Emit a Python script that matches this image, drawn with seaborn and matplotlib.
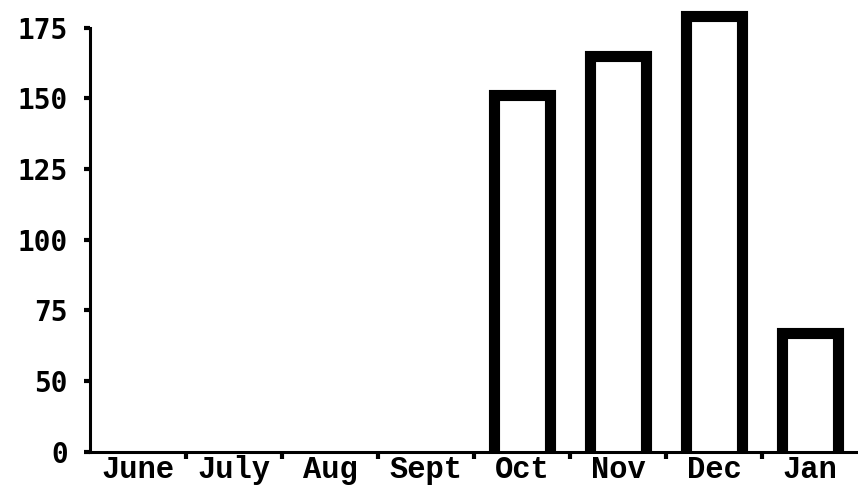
import matplotlib
matplotlib.use("Agg")
import numpy as np
import pandas as pd
import seaborn as sns
import matplotlib.pyplot as plt
from matplotlib.ticker import FixedLocator

# monthly values (axis starts at 25, labelled "0")
months = ['June', 'July', 'Aug', 'Sept', 'Oct', 'Nov', 'Dec', 'Jan']
values = [0, 0, 0, 0, 151, 165, 179, 67]
ytick_values = [25, 50, 75, 100, 125, 150, 175]
ytick_labels = ['0', '50', '75', '100', '125', '150', '175']

df = pd.DataFrame({'month': months, 'count': values})

sns.set_style("ticks")
plt.rcParams['text.color'] = 'black'
plt.rcParams['xtick.color'] = 'black'
plt.rcParams['ytick.color'] = 'black'

fig = plt.figure(figsize=(8.58, 4.88), dpi=100)
ax = fig.add_axes([0.105, 0.074, 0.895, 0.91])

sns.barplot(data=df, x='month', y='count', order=months, ax=ax,
            color='white', edgecolor='black', linewidth=8, width=0.59,
            saturation=1)

ax.set_xlim(-0.5, len(months) - 0.5)
ax.set_ylim(ytick_values[0], 182)
ax.set_xlabel('')
ax.set_ylabel('')

# y axis: small dot-like ticks on the left
ax.set_yticks(ytick_values)
ax.set_yticklabels(ytick_labels, fontfamily='DejaVu Sans Mono',
                   fontweight='bold', fontsize=20, color='black')
ax.tick_params(axis='y', length=4, width=3, pad=12, color='black')

# x axis: labels in the slots, tick marks at the slot boundaries
ax.set_xticks(range(len(months)))
ax.set_xticklabels(months, fontfamily='Liberation Mono',
                   fontweight='bold', fontsize=22, color='black')
ax.tick_params(axis='x', which='major', length=0, pad=2)
ax.xaxis.set_minor_locator(FixedLocator(np.arange(0.5, len(months) - 1, 1)))
ax.tick_params(axis='x', which='minor', length=5, width=3, color='black')

sns.despine(ax=ax, top=True, right=True)
for side in ['left', 'bottom']:
    ax.spines[side].set_linewidth(2.2)
    ax.spines[side].set_color('black')
ax.spines['left'].set_bounds(ytick_values[0], ytick_values[-1])

for p in ax.patches:
    p.set_clip_on(True)

fig.savefig('out.png', dpi=100)
